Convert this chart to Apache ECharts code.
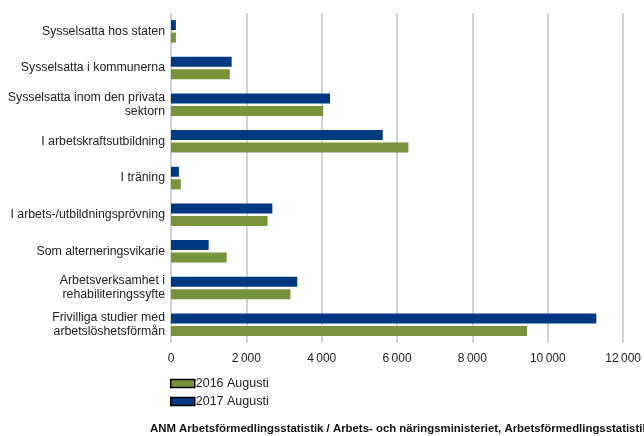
<!DOCTYPE html>
<html>
<head>
<meta charset="utf-8">
<script src="https://cdn.jsdelivr.net/npm/echarts@6/dist/echarts.min.js"></script>
<style>
  html, body { margin: 0; padding: 0; background: #fff; }
  #chart { width: 644px; height: 436px; }
</style>
</head>
<body>
<div id="chart"></div>
<script>
// kategorier, uppifrån och ned
var categories = [
  "Sysselsatta hos staten",
  "Sysselsatta i kommunerna",
  "Sysselsatta inom den privata\nsektorn",
  "I arbetskraftsutbildning",
  "I träning",
  "I arbets-/utbildningsprövning",
  "Som alterneringsvikarie",
  "Arbetsverksamhet i\nrehabiliteringssyfte",
  "Frivilliga studier med\narbetslöshetsförmån"
];
var values2016 = [130, 1560, 4040, 6300, 260, 2560, 1480, 3170, 9450];
var values2017 = [130, 1610, 4220, 5620, 210, 2690, 1000, 3350, 11290];
var xTicks = [0, 2000, 4000, 6000, 8000, 10000, 12000];
var sourceText = "ANM Arbetsförmedlingsstatistik / Arbets- och näringsministeriet, Arbetsförmedlingsstatistik";

var font = "'Liberation Sans', Arial, sans-serif";
var chart = echarts.init(document.getElementById("chart"));

var option = {
  animation: false,
  textStyle: { fontFamily: font },
  grid: { left: 171, right: 18, top: 13, bottom: 93, containLabel: false },
  legend: {
    orient: "vertical",
    left: 165,
    top: 372,
    itemWidth: 24,
    itemHeight: 8,
    itemGap: 5,
    icon: "rect",
    data: ["2016 Augusti", "2017 Augusti"],
    textStyle: { fontFamily: font, fontSize: 12.5, color: "#222", padding: [0, 0, 0, -4] },
    itemStyle: { borderColor: "#000", borderWidth: 1.5 }
  },
  xAxis: {
    type: "value",
    min: xTicks[0],
    max: xTicks[xTicks.length - 1],
    interval: 2000,
    axisLine: { show: false },
    axisTick: { show: false },
    splitLine: { lineStyle: { color: "#c4c4c4", width: 1.5 } },
    axisLabel: {
      fontFamily: font, fontSize: 12, color: "#222", margin: 10,
      formatter: function (v) {
        return String(v).replace(/\B(?=(\d{3})+(?!\d))/g, "\u2009");
      }
    }
  },
  yAxis: {
    type: "category",
    inverse: true,
    data: categories,
    axisLine: { show: false },
    axisTick: { show: false },
    axisLabel: { fontFamily: font, fontSize: 12.3, color: "#222", margin: 6, lineHeight: 14, align: "right" }
  },
  series: [
    {
      name: "2017 Augusti",
      type: "bar",
      data: values2017,
      barWidth: 10,
      barGap: "25%",
      itemStyle: { color: "#003882" }
    },
    {
      name: "2016 Augusti",
      type: "bar",
      data: values2016,
      barWidth: 10,
      barGap: "25%",
      itemStyle: { color: "#77933c" }
    }
  ],
  graphic: [
    {
      type: "text",
      left: 150,
      top: 423,
      style: { text: sourceText, fontFamily: font, fontSize: 11.4, fontWeight: "bold", fill: "#111" }
    }
  ]
};

chart.setOption(option);
</script>
</body>
</html>
